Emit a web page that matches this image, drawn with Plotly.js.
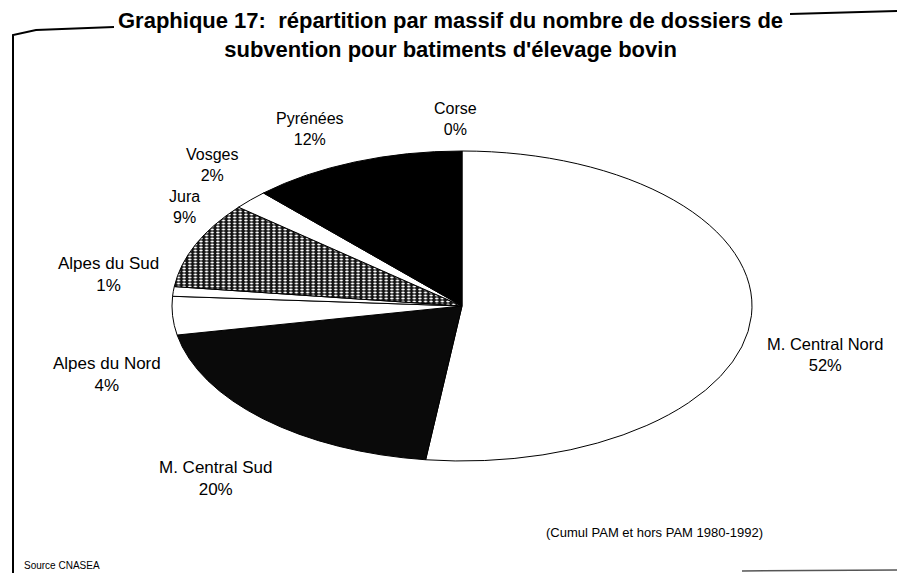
<!DOCTYPE html>
<html>
<head>
<meta charset="utf-8">
<script src="https://cdn.plot.ly/plotly-3.0.1.min.js"></script>
<style>
html,body{margin:0;padding:0;background:#fff;}
#chart{width:897px;height:573px;}
</style>
</head>
<body>
<div id="chart"></div>
<script>
// ---- data ----
var massifs = ["Corse", "M. Central Nord", "M. Central Sud", "Alpes du Nord", "Alpes du Sud", "Jura", "Vosges", "Pyrénées"];
var percents = [0, 52, 20, 4, 1, 9, 2, 12];
var titleLines = ["Graphique 17:  répartition par massif du nombre de dossiers de", "subvention pour batiments d'élevage bovin"];
var noteText = "(Cumul PAM et hors PAM 1980-1992)";
var sourceText = "Source CNASEA";

// ---- styles ----
var W = 897, H = 573;
var sliceColors = ["#000000", "#ffffff", "#0a0a0a", "#ffffff", "#ffffff", "#1a1a1a", "#ffffff", "#000000"];
var slicePatterns = ["", "", "", "", "", ".", "", ""];
// label positions in pixels (centre of label block)
var labelPos = [[455, 119], [825, 354], [215, 478], [107, 374], [108, 274], [184, 207], [212, 165], [310, 129]];
var labelSizes = [16, 16.5, 17, 17, 17, 16, 16, 16];
var pieCx = 462, pieCy = 306, pieRy = 155, pieRx = 290;

function px(x){ return x / W; }
function py(y){ return 1 - y / H; }

var fam = "Liberation Sans, Arial, sans-serif";

var annotations = [];
for (var i = 0; i < massifs.length; i++) {
  annotations.push({
    xref: "paper", yref: "paper",
    x: px(labelPos[i][0]), y: py(labelPos[i][1]),
    xanchor: "center", yanchor: "middle",
    text: massifs[i] + "<br>" + percents[i] + "%",
    showarrow: false, align: "center",
    font: {family: fam, size: labelSizes[i], color: "#000"}
  });
}
annotations.push({
  xref: "paper", yref: "paper", x: px(451), y: py(35), xanchor: "center", yanchor: "middle",
  text: "<b>" + titleLines[0] + "</b><br><b>" + titleLines[1] + "</b>",
  showarrow: false, align: "center",
  font: {family: fam, size: 22, color: "#000"}
});
annotations.push({
  xref: "paper", yref: "paper", x: px(765), y: py(532), xanchor: "right", yanchor: "middle",
  text: noteText, showarrow: false,
  font: {family: fam, size: 13, color: "#000"}
});
annotations.push({
  xref: "paper", yref: "paper", x: px(22), y: py(565), xanchor: "left", yanchor: "middle",
  text: sourceText, showarrow: false,
  font: {family: fam, size: 10, color: "#000"}
});

var shapes = [
  {type: "path", xref: "paper", yref: "paper",
   path: "M" + px(13) + "," + py(573) + " L" + px(13) + "," + py(35) + " L" + px(36) + "," + py(30) + " L" + px(114) + "," + py(27),
   line: {color: "#000", width: 2}},
  {type: "line", xref: "paper", yref: "paper", x0: px(790), y0: py(14), x1: px(897), y1: py(11), line: {color: "#000", width: 2}},
  {type: "line", xref: "paper", yref: "paper", x0: px(742), y0: py(571), x1: px(897), y1: py(570), line: {color: "#555", width: 1.5}}
];

var trace = {
  type: "pie",
  labels: massifs,
  values: percents,
  sort: false,
  direction: "clockwise",
  rotation: 0,
  textinfo: "none",
  hoverinfo: "label+percent",
  marker: {
    colors: sliceColors,
    line: {color: "#000", width: 1},
    pattern: {shape: slicePatterns, fgcolor: "#ffffff", bgcolor: "#111111", size: 3, solidity: 0.3}
  },
  domain: {x: [px(pieCx - pieRy), px(pieCx + pieRy)], y: [py(pieCy + pieRy), py(pieCy - pieRy)]}
};

var layout = {
  width: W, height: H,
  margin: {l: 0, r: 0, t: 0, b: 0},
  paper_bgcolor: "#fff", plot_bgcolor: "#fff",
  showlegend: false,
  annotations: annotations,
  shapes: shapes
};

Plotly.newPlot("chart", [trace], layout, {displayModeBar: false, staticPlot: true}).then(function(gd){
  // flatten the pie into the tilted (elliptical) look of the original
  var cd0 = gd.calcdata[0][0];
  var cx = cd0.cx, cy = cd0.cy, r = cd0.r;
  var sx = pieRx / r;
  var layer = gd.querySelector(".pielayer");
  if (layer) {
    layer.setAttribute("transform", "translate(" + cx + "," + cy + ") scale(" + sx + ",1) translate(" + (-cx) + "," + (-cy) + ")");
    var paths = layer.querySelectorAll("path");
    for (var k = 0; k < paths.length; k++) paths[k].setAttribute("vector-effect", "non-scaling-stroke");
  }
});
</script>
</body>
</html>
